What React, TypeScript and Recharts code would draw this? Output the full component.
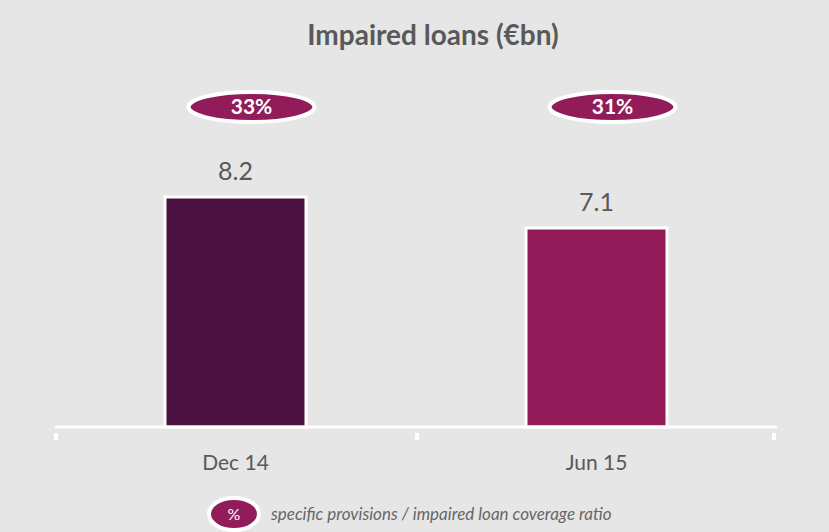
import { BarChart, Bar, XAxis, YAxis, Cell, LabelList } from 'recharts';

const categories = ['Dec 14', 'Jun 15'];
const impairedLoans = [8.2, 7.1];
const coverageRatio = ['33%', '31%'];
const barColors = ['#4a1141', '#921c5a'];

const data = categories.map((period, i) => ({
  period,
  value: impairedLoans[i],
  coverage: coverageRatio[i],
}));

const textGrey = '#595959';
const font = 'Lato, "Open Sans", sans-serif';
const PLOT_LEFT = 55;
const PLOT_RIGHT = 777;
const BAND = (PLOT_RIGHT - PLOT_LEFT) / categories.length;
const BADGE_SHIFT = 16; // badges sit a little right of bar centre in the original

const CategoryTick = (props: any) => {
  const { x, y, payload, index } = props;
  const left = x - BAND / 2;
  return (
    <g>
      <rect x={left - 1} y={y - 2} width={4} height={7} fill="#fff" />
      {index === categories.length - 1 && (
        <rect x={left + BAND - 5} y={y - 2} width={4} height={7} fill="#fff" />
      )}
      <text x={x} y={y + 35} textAnchor="middle" fontSize={21} fill={textGrey} fontFamily={font}>
        {payload.value}
      </text>
    </g>
  );
};

const CoverageBadge = (props: any) => {
  const { x, width, index } = props;
  const cx = x + width / 2 + BADGE_SHIFT;
  const cy = 107;
  return (
    <g>
      <ellipse cx={cx} cy={cy} rx={63} ry={15} fill="#921c5a" stroke="#fff" strokeWidth={4} />
      <text x={cx} y={cy + 7} textAnchor="middle" fontSize={21} fontWeight="bold" fill="#fff" fontFamily={font}>
        {coverageRatio[index]}
      </text>
    </g>
  );
};

export default function App() {
  return (
    <div
      style={{
        position: 'absolute',
        top: 0,
        left: 0,
        width: 829,
        height: 532,
        background: '#e6e6e6',
        fontFamily: font,
      }}
    >
      <div
        style={{
          position: 'absolute',
          top: 17,
          left: 0,
          width: 866,
          textAlign: 'center',
          fontSize: 28,
          fontWeight: 'bold',
          color: textGrey,
        }}
      >
        Impaired loans (€bn)
      </div>
      <BarChart
        width={829}
        height={532}
        data={data}
        margin={{ top: 99, right: 829 - PLOT_RIGHT, left: PLOT_LEFT, bottom: 0 }}
      >
        <XAxis
          dataKey="period"
          height={105}
          axisLine={{ stroke: '#fff', strokeWidth: 3 }}
          tickLine={false}
          tick={<CategoryTick />}
          interval={0}
        />
        <YAxis hide domain={[0, 11.7]} />
        <Bar dataKey="value" barSize={141} stroke="#fff" strokeWidth={3} isAnimationActive={false}>
          {data.map((d, i) => (
            <Cell key={d.period} fill={barColors[i]} />
          ))}
          <LabelList
            dataKey="value"
            position="top"
            offset={17}
            fontSize={25}
            fill={textGrey}
            fontFamily={font}
            formatter={(v: any) => Number(v).toFixed(1)}
          />
          <LabelList dataKey="coverage" content={<CoverageBadge />} />
        </Bar>
      </BarChart>
      <svg style={{ position: 'absolute', left: 205, top: 495 }} width={60} height={38}>
        <ellipse cx={29} cy={19} rx={25} ry={16} fill="#921c5a" stroke="#fff" strokeWidth={4} />
        <text x={29} y={25} textAnchor="middle" fontSize={16} fill="#fff" fontFamily={font}>
          %
        </text>
      </svg>
      <div
        style={{
          position: 'absolute',
          left: 271,
          top: 503,
          fontSize: 17,
          fontStyle: 'italic',
          color: '#666',
        }}
      >
        specific provisions / impaired loan coverage ratio
      </div>
    </div>
  );
}
